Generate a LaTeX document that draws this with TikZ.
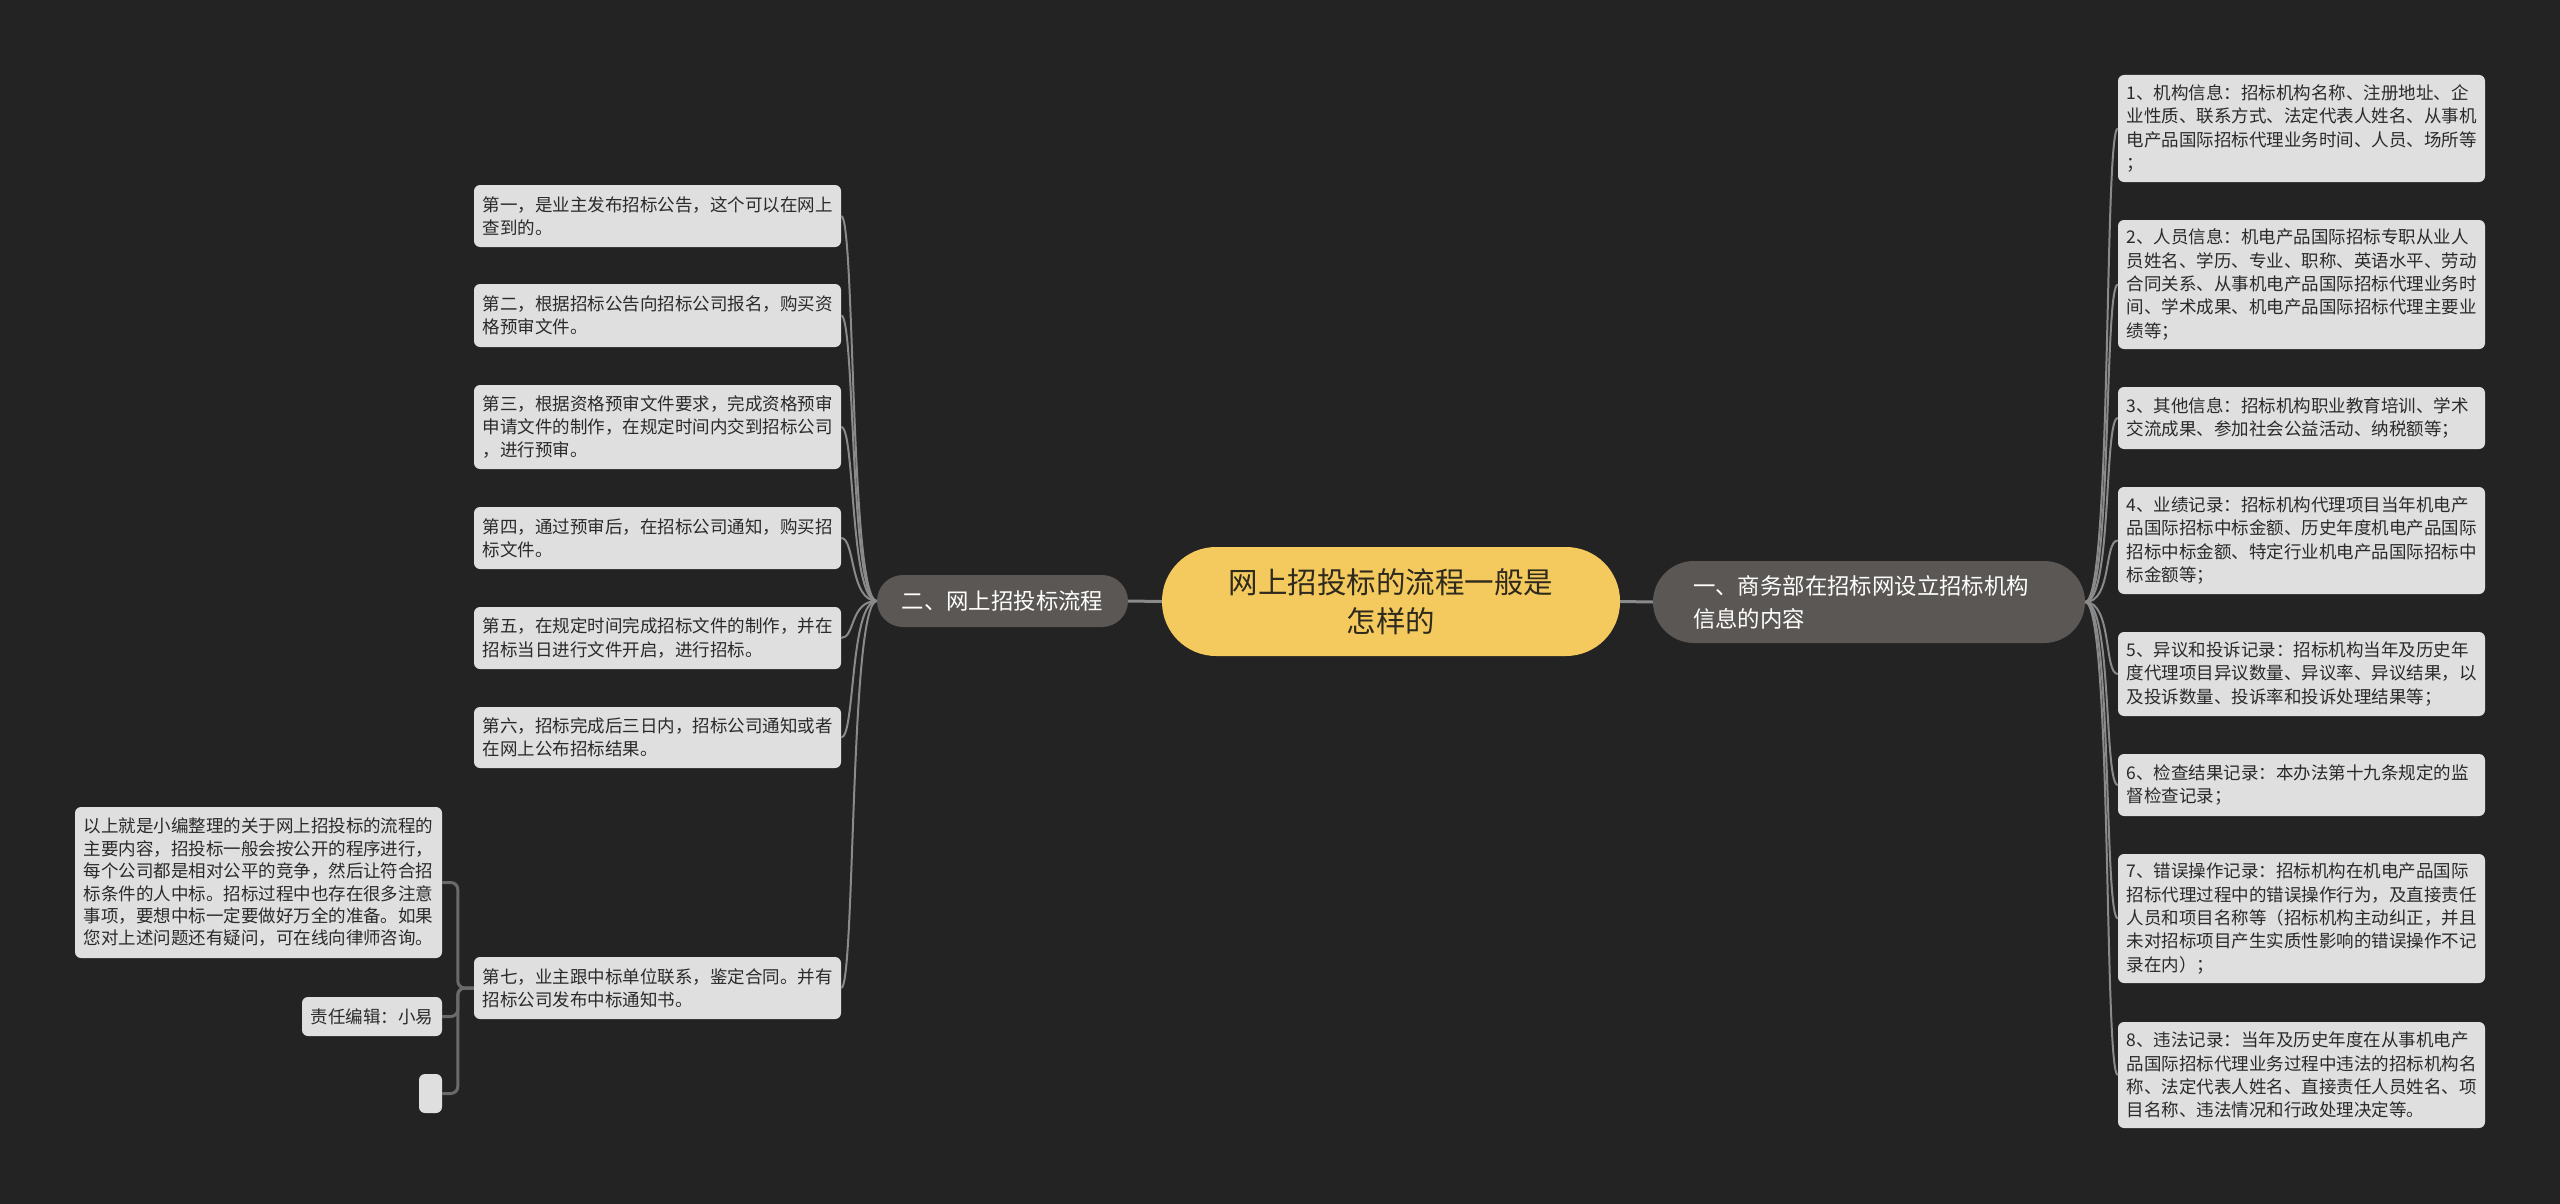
\documentclass[tikz,border=0pt]{standalone}
\usepackage{fontspec}
\setmainfont{Noto Sans CJK SC}
\definecolor{bgc}{HTML}{232323}
\definecolor{leafc}{HTML}{DFDFDF}
\definecolor{leaftxt}{HTML}{2A2A2A}
\definecolor{mainc}{HTML}{5B5754}
\definecolor{centc}{HTML}{F4C95D}
\definecolor{centtxt}{HTML}{2E2A1E}
\definecolor{linec}{HTML}{8A8A8A}
\definecolor{brkc}{HTML}{6A6A6A}
\begin{document}
\begin{tikzpicture}[x=1pt,y=-1pt,
  leaf/.style={fill=leafc, rounded corners=6, text=leaftxt,
    font=\fontsize{17.5}{23.3}\selectfont, align=left, inner xsep=8.5, inner ysep=0,
    text width=350},
  mainnode/.style={fill=mainc, text=white, font=\fontsize{22.4}{33}\selectfont, inner ysep=0},
  lnk/.style={draw=linec, line width=2},
  trunk/.style={draw=linec, line width=3},
  brk/.style={draw=brkc, line width=3, rounded corners=7}]
\useasboundingbox (0,0) rectangle (2560,1204);
\fill[bgc] (0,0) rectangle (2560,1204);

% centre and main branches
\node[fill=centc, text=centtxt, rounded corners=54, minimum width=458, minimum height=109,
  inner sep=0, align=center, font=\fontsize{29.5}{39}\selectfont] (C) at (1391,601.5)
  {网上招投标的流程一般是\\怎样的};
\node[mainnode, rounded corners=26, minimum width=251, minimum height=52, inner xsep=0] (LM) at (1002.5,601) {二、网上招投标流程};
\node[mainnode, rounded corners=41, minimum width=432, minimum height=82, inner xsep=40,
  text width=352, align=left] (RM) at (1869,602) {一、商务部在招标网设立招标机构\\信息的内容};

\draw[trunk] (LM.east) -- (C.west);
\draw[trunk] (C.east) -- (RM.west);

% left leaves
\node[leaf, minimum height=62] (L1) at (657.5,216) {第一，是业主发布招标公告，这个可以在网上\\查到的。};
\node[leaf, minimum height=63] (L2) at (657.5,315.5) {第二，根据招标公告向招标公司报名，购买资\\格预审文件。};
\node[leaf, minimum height=84] (L3) at (657.5,427) {第三，根据资格预审文件要求，完成资格预审\\申请文件的制作，在规定时间内交到招标公司\\，进行预审。};
\node[leaf, minimum height=62] (L4) at (657.5,538) {第四，通过预审后，在招标公司通知，购买招\\标文件。};
\node[leaf, minimum height=62] (L5) at (657.5,638) {第五，在规定时间完成招标文件的制作，并在\\招标当日进行文件开启，进行招标。};
\node[leaf, minimum height=61] (L6) at (657.5,737.5) {第六，招标完成后三日内，招标公司通知或者\\在网上公布招标结果。};
\node[leaf, minimum height=62] (L7) at (657.5,988) {第七，业主跟中标单位联系，鉴定合同。并有\\招标公司发布中标通知书。};

\foreach \n in {L1,L2,L3,L4,L5,L6,L7}
  \draw[lnk] (LM.west) .. controls +(-27,0) and +(14,0) .. (\n.east);

% sub leaves of L7
\node[leaf, minimum height=151, font=\fontsize{17.5}{22.4}\selectfont] (S) at (258.5,882.5)
  {以上就是小编整理的关于网上招投标的流程的\\主要内容，招投标一般会按公开的程序进行，\\每个公司都是相对公平的竞争，然后让符合招\\标条件的人中标。招标过程中也存在很多注意\\事项，要想中标一定要做好万全的准备。如果\\您对上述问题还有疑问，可在线向律师咨询。};
\node[leaf, text width=, minimum width=140, minimum height=39, inner xsep=0, align=center] (E) at (372,1016.5) {责任编辑：小易};
\node[leaf, text width=, minimum width=23, minimum height=39, inner sep=0] (X) at (430.5,1093.5) {};

\draw[brk] (L7.west) -- ++(-16,0) |- (S.east);
\draw[brk] (L7.west) -- ++(-16,0) |- (E.east);
\draw[brk] (L7.west) -- ++(-16,0) |- (X.east);

% right leaves
\node[leaf, minimum height=107] (R1) at (2301.5,128.5) {1、机构信息：招标机构名称、注册地址、企\\业性质、联系方式、法定代表人姓名、从事机\\电产品国际招标代理业务时间、人员、场所等\\；};
\node[leaf, minimum height=129] (R2) at (2301.5,284.5) {2、人员信息：机电产品国际招标专职从业人\\员姓名、学历、专业、职称、英语水平、劳动\\合同关系、从事机电产品国际招标代理业务时\\间、学术成果、机电产品国际招标代理主要业\\绩等；};
\node[leaf, minimum height=62] (R3) at (2301.5,418) {3、其他信息：招标机构职业教育培训、学术\\交流成果、参加社会公益活动、纳税额等；};
\node[leaf, minimum height=107] (R4) at (2301.5,540.5) {4、业绩记录：招标机构代理项目当年机电产\\品国际招标中标金额、历史年度机电产品国际\\招标中标金额、特定行业机电产品国际招标中\\标金额等；};
\node[leaf, minimum height=84] (R5) at (2301.5,674) {5、异议和投诉记录：招标机构当年及历史年\\度代理项目异议数量、异议率、异议结果，以\\及投诉数量、投诉率和投诉处理结果等；};
\node[leaf, minimum height=62] (R6) at (2301.5,785) {6、检查结果记录：本办法第十九条规定的监\\督检查记录；};
\node[leaf, minimum height=129] (R7) at (2301.5,918.5) {7、错误操作记录：招标机构在机电产品国际\\招标代理过程中的错误操作行为，及直接责任\\人员和项目名称等（招标机构主动纠正，并且\\未对招标项目产生实质性影响的错误操作不记\\录在内）；};
\node[leaf, minimum height=106] (R8) at (2301.5,1075) {8、违法记录：当年及历史年度在从事机电产\\品国际招标代理业务过程中违法的招标机构名\\称、法定代表人姓名、直接责任人员姓名、项\\目名称、违法情况和行政处理决定等。};

\foreach \n in {R1,R2,R3,R4,R5,R6,R7,R8}
  \draw[lnk] (RM.east) .. controls +(27,0) and +(-14,0) .. (\n.west);
\end{tikzpicture}
\end{document}
